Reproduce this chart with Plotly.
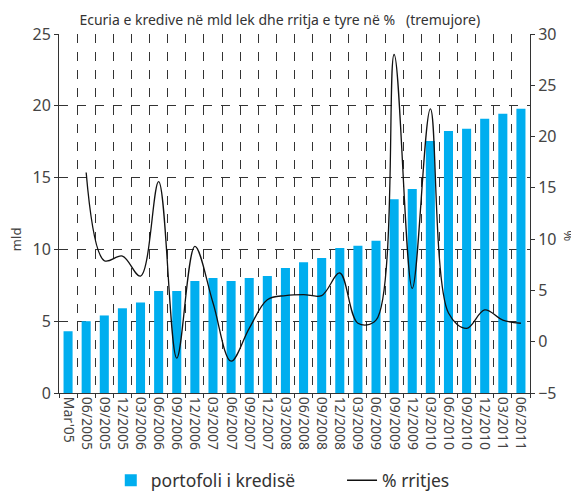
import plotly.graph_objects as go

categories = ["Mar'05", "06/2005", "09/2005", "12/2005", "03/2006", "06/2006", "09/2006",
              "12/2006", "03/2007", "06/2007", "09/2007", "12/2007", "03/2008", "06/2008",
              "09/2008", "12/2008", "03/2009", "06/2009", "09/2009", "12/2009", "03/2010",
              "06/2010", "09/2010", "12/2010", "03/2011", "06/2011"]

portofoli = [4.3, 5.0, 5.4, 5.9, 6.3, 7.1, 7.1, 7.8, 8.0, 7.8, 8.0, 8.15, 8.7, 9.1,
             9.4, 10.1, 10.25, 10.6, 13.5, 14.2, 17.55, 18.25, 18.4, 19.1, 19.45, 19.8]

rritja_cat = categories[1:]
rritja = [16.5, 7.9, 8.35, 6.4, 15.6, -1.6, 9.3, 3.8, -1.9, 1.3, 4.1, 4.5, 4.6,
          4.5, 6.7, 1.8, 2.1, 28.0, 5.2, 22.7, 2.8, 1.3, 3.1, 2.1, 1.8]

FONT = "Noto Sans"
TXT = "#444444"

fig = go.Figure()
fig.add_trace(go.Bar(x=categories, y=portofoli, name="portofoli i kredisë", legend="legend",
                     marker=dict(color="#00AEEF", line=dict(width=0)), width=0.5))
fig.add_trace(go.Scatter(x=rritja_cat, y=rritja, name="% rritjes", yaxis="y2", legend="legend2",
                         mode="lines", line=dict(color="#111111", width=1.3, shape="spline", smoothing=1.0)))

fig.update_layout(
    width=571, height=486,
    margin=dict(l=51, r=49, t=26, b=101),
    paper_bgcolor="white", plot_bgcolor="white",
    font=dict(family=FONT, size=14, color=TXT),
    title=dict(text="Ecuria e kredive në mld lek dhe rritja e tyre në %   (tremujore)",
               x=0.476, xanchor="center", yref="container", y=0.975, yanchor="middle",
               font=dict(family=FONT, size=14, color="#333333")),
    showlegend=True,
    legend=dict(orientation="h", xref="container", x=0.18, xanchor="left",
                yref="container", y=0.028, yanchor="middle",
                font=dict(family=FONT, size=17.5, color="#333333")),
    legend2=dict(orientation="h", xref="container", x=0.585, xanchor="left",
                 yref="container", y=0.028, yanchor="middle",
                 font=dict(family=FONT, size=17.5, color="#333333")),
    xaxis=dict(type="category", tickangle=90, tickson="boundaries", automargin=False,
               showgrid=True, gridcolor="#333333", griddash="dash", gridwidth=1,
               showline=True, linecolor="#333333", linewidth=1,
               ticks="outside", ticklen=4, tickcolor="#333333",
               tickfont=dict(family=FONT, size=14, color=TXT), range=[-0.5, 25.5]),
    yaxis=dict(range=[0, 25], dtick=5, showgrid=True, gridcolor="#333333", griddash="dash",
               gridwidth=1, showline=True, linecolor="#333333", linewidth=1, automargin=False,
               ticks="outside", ticklen=4, tickcolor="#333333", zeroline=False,
               tickfont=dict(family=FONT, size=16, color=TXT)),
    yaxis2=dict(range=[-5, 30], dtick=5, overlaying="y", side="right", showgrid=False,
                showline=True, linecolor="#333333", linewidth=1, zeroline=False, automargin=False,
                ticks="outside", ticklen=4, tickcolor="#333333",
                tickfont=dict(family=FONT, size=16, color=TXT)),
    bargap=0.5,
    annotations=[
        dict(text="mld", xref="paper", yref="paper", x=-0.091, y=0.429, showarrow=False,
             xanchor="center", yanchor="middle",
             textangle=-90, font=dict(family=FONT, size=13, color=TXT)),
        dict(text="%", xref="paper", yref="paper", x=1.081, y=0.437, showarrow=False,
             xanchor="center", yanchor="middle",
             textangle=-90, font=dict(family=FONT, size=13, color=TXT)),
    ],
)

fig.write_html("out.html")
